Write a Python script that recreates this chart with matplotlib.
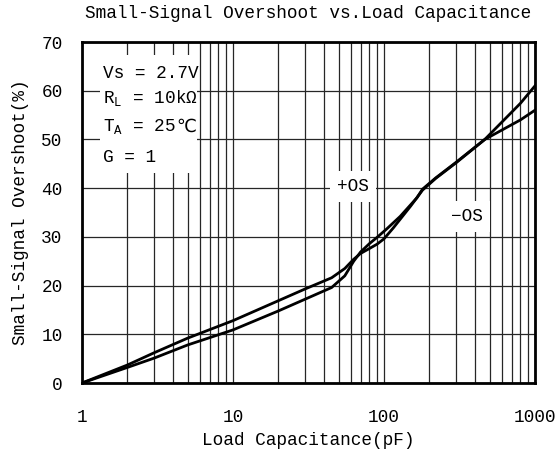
import matplotlib
matplotlib.use("Agg")
import matplotlib.pyplot as plt
from matplotlib.patches import Rectangle
from matplotlib.ticker import LogLocator, FixedLocator, NullFormatter

# ---- data ----
cap_a = [1, 2, 3, 5, 10, 20, 30, 45, 55, 63, 70, 80, 90, 100, 115, 150, 180, 220, 300, 465, 800, 1000]
os_a = [0, 3.7, 6.2, 9.2, 12.8, 16.9, 19.3, 21.6, 23.5, 25.4, 26.6, 27.6, 28.5, 29.6, 31.8, 36.3, 39.6, 42.0, 45.2, 50.0, 54.0, 56.0]

cap_b = [1, 2, 3, 5, 10, 20, 30, 45, 55, 63, 70, 80, 90, 104, 128, 165, 180, 220, 300, 465, 800, 1000]
os_b = [0, 3.2, 5.1, 7.8, 10.9, 14.8, 17.2, 19.6, 22.0, 25.0, 26.9, 28.6, 29.9, 31.6, 34.2, 38.0, 39.8, 42.1, 45.3, 50.0, 57.4, 61.0]

xticks = [1, 10, 100, 1000]
xticklabels = ["1", "10", "100", "1000"]
yticks = [0, 10, 20, 30, 40, 50, 60, 70]

FONT = ["Liberation Mono", "DejaVu Sans"]
FS = 12.8
plt.rcParams["font.family"] = FONT
plt.rcParams["mathtext.fontset"] = "custom"
plt.rcParams["mathtext.rm"] = "Liberation Mono"

fig = plt.figure(figsize=(5.57, 4.57), dpi=100)
ax = fig.add_axes([82 / 557, 74 / 457, 453 / 557, 341 / 457])

ax.set_xscale("log")
ax.set_xlim(1, 1000)
ax.set_ylim(0, 70)

ax.xaxis.set_major_locator(FixedLocator(xticks))
ax.set_xticklabels(xticklabels)
ax.xaxis.set_minor_locator(LogLocator(base=10, subs=range(2, 10)))
ax.xaxis.set_minor_formatter(NullFormatter())
ax.set_yticks(yticks)

ax.grid(True, which="major", axis="both", color="0.15", lw=0.9, zorder=1)
ax.grid(True, which="minor", axis="x", color="0.15", lw=0.9, zorder=1)
ax.set_axisbelow(True)

ax.tick_params(axis="both", which="both", length=0, labelsize=FS)
ax.tick_params(axis="y", pad=14)
ax.tick_params(axis="x", pad=19)

for s in ax.spines.values():
    s.set_linewidth(2)
    s.set_color("black")
    s.set_zorder(5)

ax.plot(cap_a, os_a, color="black", lw=2, zorder=3)
ax.plot(cap_b, os_b, color="black", lw=2, zorder=3)

# white box behind conditions
ax.add_patch(Rectangle((18 / 453, 210 / 341), 97 / 453, 118 / 341, transform=ax.transAxes,
                       facecolor="white", edgecolor="none", zorder=2))
cond = ["Vs = 2.7V", r"R$_\mathregular{L}$ = 10kΩ", r"T$_\mathregular{A}$ = 25", "G = 1"]
ys = [310 / 341, 285 / 341, 256 / 341, 226 / 341]
texts = []
for t, y in zip(cond, ys):
    texts.append(ax.text(21 / 453, y, t, transform=ax.transAxes, fontsize=FS, va="center",
                         ha="left", family=FONT, zorder=4))
ax.annotate("℃", xy=(1, 0.5), xycoords=texts[2], va="center", ha="left",
            fontsize=FS, family=["DejaVu Sans"], zorder=4)

ax.text(62.5, 40.4, "+OS", fontsize=FS, ha="center", va="center", zorder=4,
        bbox=dict(facecolor="white", edgecolor="none", pad=5))
ax.text(355, 34.2, "−OS", fontsize=FS, ha="center", va="center", zorder=4,
        bbox=dict(facecolor="white", edgecolor="none", pad=5))

ax.set_title("Small-Signal Overshoot vs.Load Capacitance", fontsize=FS, pad=17)
ax.set_xlabel("Load Capacitance(pF)", fontsize=FS, labelpad=4)
ax.set_ylabel("Small-Signal Overshoot(%)", fontsize=FS)
ax.yaxis.set_label_coords(-53 / 453, 0.5)

fig.savefig("out.png", dpi=100)
